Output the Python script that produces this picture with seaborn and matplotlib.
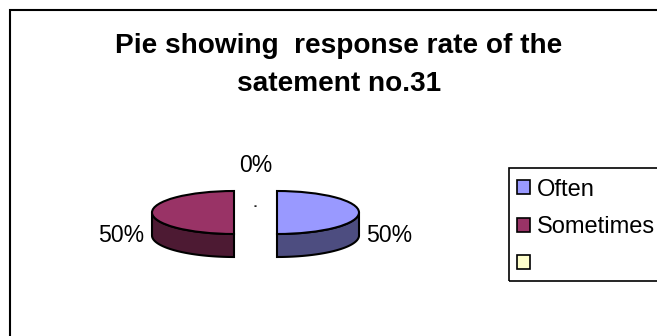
import numpy as np
import matplotlib
matplotlib.use("Agg")
import matplotlib.pyplot as plt
from matplotlib.patches import Rectangle
import seaborn as sns

title_text = "Pie showing  response rate of the\nsatement no.31"
categories = ["Often", "Sometimes", ""]
values = [50, 50, 0]
colors = ["#9999FF", "#993366", "#FFFFCC"]
side_colors = ["#4D4D80", "#4D1A33"]
W, H = 657, 336

sns.set_theme(style="white")
plt.rcParams['font.family'] = ['Liberation Sans', 'DejaVu Sans']
sns.set_palette(sns.color_palette(colors))

fig = plt.figure(figsize=(W / 100, H / 100), dpi=100, facecolor="white")
ax = fig.add_axes([0, 0, 1, 1])

cx, cy, a, b, depth, gap = 255.5, 212.5, 82, 21.5, 23, 21.5
explode_frac = gap / a
edge = dict(edgecolor="black", linewidth=1.5)

wedges, _ = ax.pie(values, colors=colors, startangle=90, counterclock=False,
                   explode=[explode_frac] * 3, wedgeprops=edge, normalize=True)
wedges[2].set_radius(0.07)
wedges[2].set_facecolor("black")
for w in wedges:
    w.set_zorder(3)

# extruded side of the two halves
d = depth / b
t = np.radians(np.linspace(-90, 0, 60))
xr = explode_frac + np.cos(t)
yr = np.sin(t)
ax.fill(np.r_[xr, xr[::-1]], np.r_[yr, (yr - d)[::-1]], facecolor=side_colors[0], zorder=2, **edge)
ax.fill(np.r_[-xr, -xr[::-1]], np.r_[yr, (yr - d)[::-1]], facecolor=side_colors[1], zorder=2, **edge)

ax.set_aspect("auto")
ax.set_xlim((0 - cx) / a, (W - cx) / a)
ax.set_ylim((cy - H) / b, cy / b)
ax.axis("off")

def px(x, y):
    return (x / W, 1 - y / H)

total = sum(values)
pct = [f"{100 * v / total:.0f}%" for v in values]
fs = 16.6
ax.text(*px(366, 235), pct[0], transform=ax.transAxes, fontsize=fs, ha="left", va="center", color="black")
ax.text(*px(144.5, 235), pct[1], transform=ax.transAxes, fontsize=fs, ha="right", va="center", color="black")
ax.text(*px(256, 166), pct[2], transform=ax.transAxes, fontsize=fs, ha="center", va="center", color="black")

ax.text(*px(339, 65), title_text, transform=ax.transAxes, fontsize=20.2, fontweight="bold",
        ha="center", va="center", linespacing=1.6, color="black")

fig.add_artist(Rectangle((9.5 / W, -0.1), 1.1, 1.1 - 9.5 / H, transform=fig.transFigure,
                         fill=False, edgecolor="black", linewidth=1.5))
fig.add_artist(Rectangle((508.5 / W, 1 - 280.5 / H), 0.3, 112.5 / H, transform=fig.transFigure,
                         fill=False, edgecolor="black", linewidth=1.2))

leg_colors = dict(zip(categories, colors))
handles = [Rectangle((0, 0), 1, 1, facecolor=leg_colors[c], edgecolor="black", linewidth=1.2) for c in categories]
leg = ax.legend(handles, categories, loc="upper left", bbox_to_anchor=px(517, 178.5), frameon=False,
                fontsize=17, handlelength=0.55, handleheight=0.55, handletextpad=0.3,
                labelspacing=0.66, borderpad=0, borderaxespad=0, labelcolor="black")

fig.savefig("out.png", dpi=100)
